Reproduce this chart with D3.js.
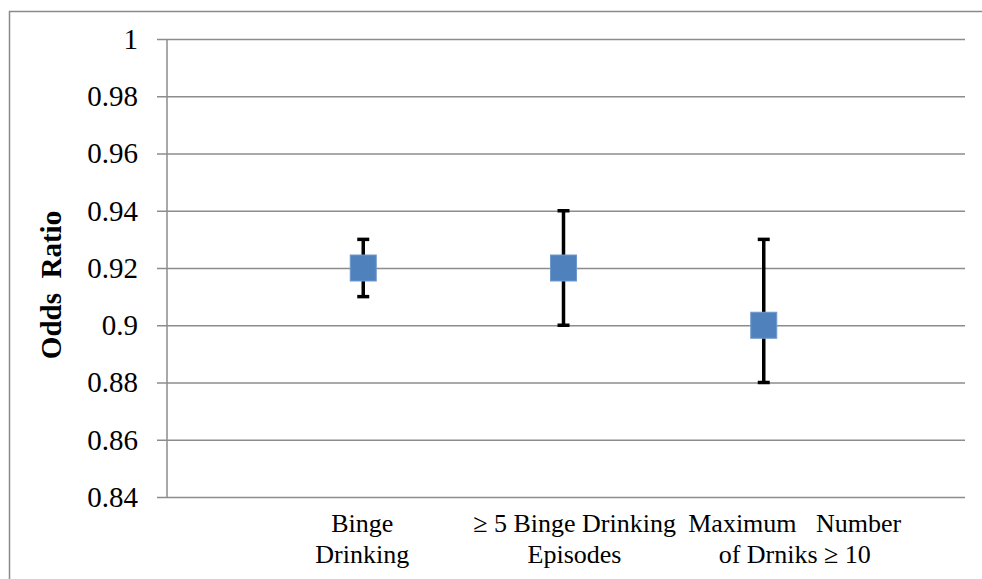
<!DOCTYPE html>
<html>
<head>
<meta charset="utf-8">
<script src="https://cdn.jsdelivr.net/npm/d3@7"></script>
<style>
  body { margin: 0; background: #fff; }
  svg, text, tspan { font-family: "Liberation Serif", "DejaVu Serif", serif; fill: #000; }
</style>
</head>
<body>
<div id="my_dataviz"></div>
<script>

// data
var categories = ["Binge Drinking", "\u2265 5 Binge Drinking Episodes", "Maximum Number of Drniks \u2265 10"];
var labelLines = [["Binge", "Drinking"], ["\u2265 5 Binge Drinking", "Episodes"], ["Maximum\u00a0\u00a0 Number", "of Drniks \u2265 10"]];
var oddsRatio = [0.92, 0.92, 0.90];
var lowerCI = [0.91, 0.90, 0.88];
var upperCI = [0.93, 0.94, 0.93];
var yTicks = [0.84, 0.86, 0.88, 0.90, 0.92, 0.94, 0.96, 0.98, 1];

// set the dimensions and margins of the graph
var W = 982, H = 579;
var margin = {top: 39, right: 17, bottom: 82, left: 167};
var width = W - margin.left - margin.right;
var height = H - margin.top - margin.bottom;

var root = d3.select("#my_dataviz").append("svg")
    .attr("width", W)
    .attr("height", H)
    .attr("font-family", "'Liberation Serif', serif");

// outer chart frame
root.append("rect")
    .attr("x", 9.5).attr("y", 11.5)
    .attr("width", W + 10).attr("height", H + 10)
    .attr("fill", "none")
    .attr("stroke", "#8a8a8a")
    .attr("stroke-width", 1.5);

var svg = root.append("g")
    .attr("transform", "translate(" + margin.left + "," + margin.top + ")");

// category slots: empty first and last positions like the original
var slots = [""].concat(categories).concat([" "]);
var x = d3.scalePoint()
    .domain(slots)
    .range([-4, width - 1]);

var y = d3.scaleLinear()
    .domain([0.84, 1])
    .range([height, 0]);

// gridlines + y axis
var yAxis = d3.axisLeft(y)
    .tickValues(yTicks)
    .tickSize(-width)
    .tickPadding(0)
    .tickFormat(function(d) { return d3.format("")(+d.toFixed(2)); });

var gy = svg.append("g").call(yAxis)
    .attr("font-family", "'Liberation Serif', serif");
gy.select(".domain").remove();
gy.selectAll(".tick line")
    .attr("x1", -10)
    .attr("stroke", "#8c8c8c")
    .attr("stroke-width", 1.5);
gy.selectAll(".tick text")
    .attr("x", -29)
    .style("font-size", "29px")
    .attr("fill", "#000");

// vertical axis line
svg.append("line")
    .attr("x1", 0).attr("x2", 0)
    .attr("y1", 0).attr("y2", height)
    .attr("stroke", "#8c8c8c")
    .attr("stroke-width", 1.5);

// axis title
svg.append("text")
    .attr("transform", "translate(" + (-106) + "," + (height / 2 + 17) + ") rotate(-90)")
    .attr("text-anchor", "middle")
    .style("font-size", "29px")
    .style("font-weight", "bold")
    .text("Odds\u00a0\u00a0Ratio");

// category labels
var labelShift = [-1, 11, 31];
var cat = svg.append("g").selectAll(".cat")
    .data(categories)
    .enter().append("text")
    .attr("class", "cat")
    .attr("text-anchor", "middle")
    .attr("transform", function(d, i) {
        return "translate(" + (x(d) + labelShift[i]) + "," + (height + 35) + ")";
    })
    .style("font-size", "26px");
cat.selectAll("tspan")
    .data(function(d, i) { return labelLines[i]; })
    .enter().append("tspan")
    .attr("x", 0)
    .attr("dy", function(d, j) { return j === 0 ? 0 : 31; })
    .text(function(d) { return d; });

// error bars
var bars = svg.append("g")
    .selectAll(".err")
    .data(categories)
    .enter().append("g")
    .attr("class", "err")
    .attr("stroke", "#000")
    .attr("stroke-width", 3.5);

bars.append("line")
    .attr("x1", function(d) { return x(d); })
    .attr("x2", function(d) { return x(d); })
    .attr("y1", function(d, i) { return y(lowerCI[i]); })
    .attr("y2", function(d, i) { return y(upperCI[i]); });
bars.append("line")
    .attr("x1", function(d) { return x(d) - 6; })
    .attr("x2", function(d) { return x(d) + 6; })
    .attr("y1", function(d, i) { return y(lowerCI[i]); })
    .attr("y2", function(d, i) { return y(lowerCI[i]); });
bars.append("line")
    .attr("x1", function(d) { return x(d) - 6; })
    .attr("x2", function(d) { return x(d) + 6; })
    .attr("y1", function(d, i) { return y(upperCI[i]); })
    .attr("y2", function(d, i) { return y(upperCI[i]); });

// square markers
var s = 26;
svg.append("g")
    .selectAll(".pt")
    .data(categories)
    .enter().append("rect")
    .attr("class", "pt")
    .attr("x", function(d) { return x(d) - s / 2; })
    .attr("y", function(d, i) { return y(oddsRatio[i]) - s / 2; })
    .attr("width", s)
    .attr("height", s)
    .attr("fill", "#4f81bd")
    .attr("stroke", "#6f98cc")
    .attr("stroke-width", 1);

</script>
</body>
</html>
